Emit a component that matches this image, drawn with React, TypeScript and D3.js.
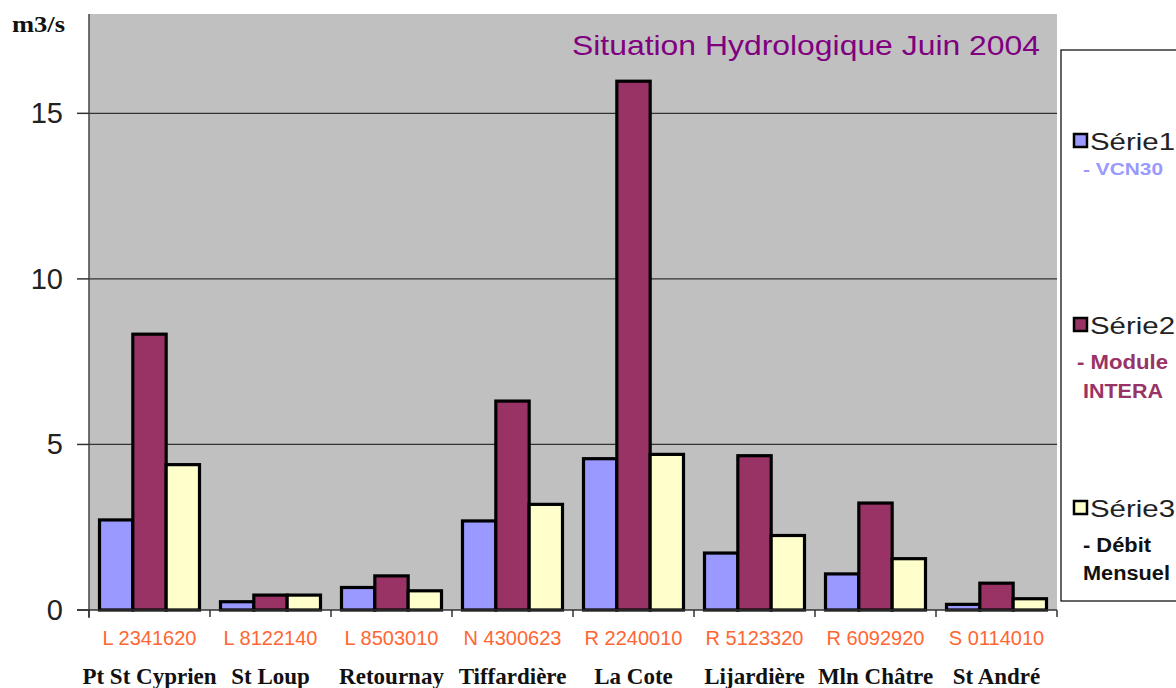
import * as React from 'react';
import * as d3 from 'd3';

const codes = ['L 2341620', 'L 8122140', 'L 8503010', 'N 4300623', 'R 2240010', 'R 5123320', 'R 6092920', 'S 0114010'];
const names = ['Pt St Cyprien', 'St Loup', 'Retournay', 'Tiffardière', 'La Cote', 'Lijardière', 'Mln Châtre', 'St André'];

const serie1 = [2.72, 0.25, 0.68, 2.69, 4.57, 1.72, 1.09, 0.17];
const serie2 = [8.33, 0.45, 1.03, 6.31, 15.97, 4.66, 3.23, 0.81];
const serie3 = [4.39, 0.45, 0.58, 3.19, 4.7, 2.25, 1.55, 0.34];

const seriesNames = ['Série1', 'Série2', 'Série3'];
const seriesColors = ['#9999ff', '#993366', '#ffffcc'];
const yTicks = [0, 5, 10, 15];

const sans = 'Liberation Sans, Arial, sans-serif';
const serif = 'Liberation Serif, Times New Roman, serif';

export default function App() {
	const width = 1176;
	const height = 688;
	const left = 89;
	const right = 1057;
	const top = 14;
	const bottom = 610;

	const x0 = d3.scaleBand<number>().domain(d3.range(codes.length)).range([left, right]);
	const x1 = d3
		.scaleBand<number>()
		.domain([0, 1, 2])
		.range([10.5, x0.bandwidth() - 10.5]);
	const y = d3.scaleLinear().domain([0, 18]).range([bottom, top]);

	const data = [serie1, serie2, serie3];

	return (
		<svg width={width} height={height} style={{ position: 'absolute', left: 0, top: 0, background: '#fff' }}>
			<rect x={left} y={top} width={right - left} height={bottom - top} fill='#c0c0c0' />
			{yTicks
				.filter(t => t > 0)
				.map(t => (
					<line key={t} x1={left} x2={right} y1={y(t)} y2={y(t)} stroke='#333' strokeWidth={1.2} />
				))}
			<text x={12} y={32} fontFamily={serif} fontWeight='bold' fontSize={24} fill='#111' textLength={53} lengthAdjust='spacingAndGlyphs'>
				m3/s
			</text>
			<text x={572} y={55} fontFamily={sans} fontSize={28} fill='#800080' textLength={468} lengthAdjust='spacingAndGlyphs'>
				Situation Hydrologique Juin 2004
			</text>

			{data.map((vals, s) =>
				vals.map((v, i) => (
					<rect
						key={`${s}-${i}`}
						x={x0(i)! + x1(s)!}
						y={y(v)}
						width={x1.bandwidth()}
						height={bottom - y(v)}
						fill={seriesColors[s]}
						stroke='#000'
						strokeWidth={3.2}
					/>
				))
			)}

			{/* axes */}
			<line x1={left} x2={left} y1={top} y2={bottom + 8} stroke='#444' strokeWidth={1.5} />
			<line x1={left - 12} x2={right} y1={bottom} y2={bottom} stroke='#333' strokeWidth={1.5} />
			{yTicks.map(t => (
				<g key={t}>
					<line x1={left - 12} x2={left} y1={y(t)} y2={y(t)} stroke='#333' strokeWidth={1.5} />
					<text x={63} y={y(t) + 10} textAnchor='end' fontFamily={sans} fontSize={29} fill='#222'>
						{t}
					</text>
				</g>
			))}
			{d3.range(codes.length + 1).map(i => {
				const xx = i < codes.length ? x0(i)! : right;
				return <line key={i} x1={xx} x2={xx} y1={bottom} y2={bottom + 7} stroke='#333' strokeWidth={1.5} />;
			})}
			{codes.map((c, i) => (
				<g key={c}>
					<text
						x={x0(i)! + x0.bandwidth() / 2}
						y={645}
						textAnchor='middle'
						fontFamily={sans}
						fontSize={20}
						fill='#ff6633'
					>
						{c}
					</text>
					<text
						x={x0(i)! + x0.bandwidth() / 2}
						y={684}
						textAnchor='middle'
						fontFamily={serif}
						fontWeight='bold'
						fontSize={23}
						fill='#111'
					>
						{names[i]}
					</text>
				</g>
			))}

			{/* legend */}
			<rect x={1061} y={50} width={130} height={551} fill='#fff' stroke='#000' strokeWidth={1.2} />
			{seriesNames.map((n, s) => {
				const ly = [141, 325, 508][s];
				return (
					<g key={n}>
						<rect x={1074} y={ly - 7} width={13} height={13} fill={seriesColors[s]} stroke='#000' strokeWidth={2.5} />
						<text x={1090} y={ly + 9} fontFamily={sans} fontSize={24} fill='#222' textLength={85} lengthAdjust='spacingAndGlyphs'>
							{n}
						</text>
					</g>
				);
			})}
			<text x={1083} y={175} fontFamily={sans} fontWeight='bold' fontSize={17} fill='#9999ff' textLength={80} lengthAdjust='spacingAndGlyphs'>
				- VCN30
			</text>
			<text x={1077} y={369} fontFamily={sans} fontWeight='bold' fontSize={20} fill='#993366' textLength={91} lengthAdjust='spacingAndGlyphs'>
				- Module
			</text>
			<text x={1083} y={398} fontFamily={sans} fontWeight='bold' fontSize={20} fill='#993366' textLength={80} lengthAdjust='spacingAndGlyphs'>
				INTERA
			</text>
			<text x={1083} y={552} fontFamily={sans} fontWeight='bold' fontSize={20} fill='#111' textLength={68} lengthAdjust='spacingAndGlyphs'>
				- Débit
			</text>
			<text x={1083} y={580} fontFamily={sans} fontWeight='bold' fontSize={20} fill='#111' textLength={87} lengthAdjust='spacingAndGlyphs'>
				Mensuel
			</text>
		</svg>
	);
}
